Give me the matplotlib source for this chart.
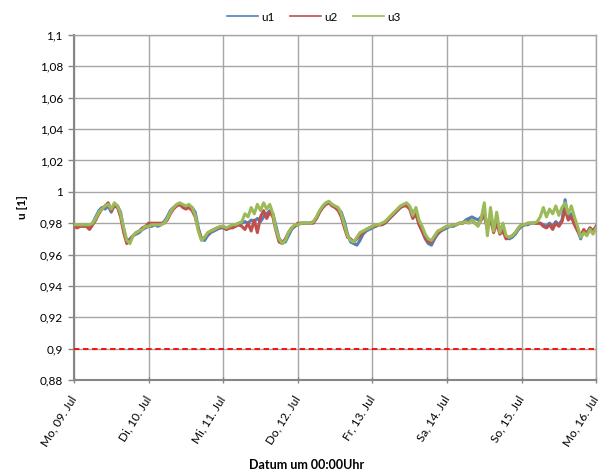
import datetime as dt
import numpy as np
import matplotlib
matplotlib.use('Agg')
import matplotlib.pyplot as plt
from matplotlib.lines import Line2D
from matplotlib.ticker import FuncFormatter

plt.rcParams['font.family'] = ['Lato', 'DejaVu Sans']

# hourly values, Mo 09. Jul 00:00 .. Mo 16. Jul 00:00
u1 = [
    0.978, 0.978, 0.979, 0.978, 0.979, 0.978, 0.980, 0.984, 0.988, 0.990, 0.989, 0.991, 0.987, 0.992, 0.991, 0.987, 0.976, 0.968, 0.970, 0.972, 0.973, 0.974, 0.976, 0.977,
    0.978, 0.978, 0.979, 0.978, 0.979, 0.981, 0.984, 0.988, 0.990, 0.991, 0.992, 0.991, 0.990, 0.991, 0.990, 0.987, 0.977, 0.970, 0.969, 0.972, 0.974, 0.975, 0.976, 0.977,
    0.977, 0.976, 0.977, 0.978, 0.979, 0.980, 0.980, 0.981, 0.980, 0.982, 0.981, 0.983, 0.981, 0.984, 0.986, 0.988, 0.986, 0.978, 0.970, 0.968, 0.968, 0.972, 0.976, 0.978,
    0.979, 0.980, 0.980, 0.980, 0.980, 0.981, 0.983, 0.987, 0.990, 0.992, 0.993, 0.992, 0.990, 0.989, 0.987, 0.981, 0.973, 0.968, 0.967, 0.966, 0.969, 0.973, 0.975, 0.976,
    0.977, 0.978, 0.979, 0.979, 0.980, 0.982, 0.984, 0.986, 0.988, 0.990, 0.991, 0.992, 0.990, 0.987, 0.986, 0.980, 0.975, 0.970, 0.967, 0.966, 0.970, 0.973, 0.975, 0.976,
    0.977, 0.978, 0.978, 0.979, 0.980, 0.980, 0.982, 0.983, 0.984, 0.983, 0.982, 0.984, 0.986, 0.978, 0.984, 0.976, 0.982, 0.975, 0.976, 0.971, 0.970, 0.971, 0.973, 0.976,
    0.978, 0.979, 0.979, 0.980, 0.980, 0.980, 0.980, 0.979, 0.978, 0.980, 0.978, 0.981, 0.979, 0.982, 0.995, 0.983, 0.986, 0.980, 0.976, 0.970, 0.975, 0.974, 0.977, 0.975,
    0.978,
]
u2 = [
    0.978, 0.977, 0.978, 0.978, 0.978, 0.976, 0.979, 0.982, 0.986, 0.989, 0.991, 0.993, 0.988, 0.991, 0.990, 0.984, 0.974, 0.967, 0.969, 0.972, 0.974, 0.975, 0.977, 0.978,
    0.980, 0.980, 0.980, 0.980, 0.980, 0.980, 0.982, 0.986, 0.989, 0.991, 0.992, 0.990, 0.989, 0.990, 0.988, 0.984, 0.976, 0.970, 0.971, 0.973, 0.975, 0.976, 0.977, 0.977,
    0.978, 0.976, 0.977, 0.977, 0.978, 0.979, 0.978, 0.976, 0.980, 0.975, 0.982, 0.974, 0.984, 0.988, 0.983, 0.987, 0.984, 0.975, 0.968, 0.967, 0.970, 0.974, 0.977, 0.978,
    0.980, 0.980, 0.980, 0.980, 0.980, 0.980, 0.983, 0.987, 0.990, 0.992, 0.993, 0.991, 0.990, 0.988, 0.984, 0.977, 0.971, 0.970, 0.968, 0.970, 0.972, 0.974, 0.976, 0.977,
    0.978, 0.978, 0.979, 0.979, 0.980, 0.982, 0.984, 0.986, 0.988, 0.990, 0.991, 0.991, 0.989, 0.983, 0.986, 0.979, 0.975, 0.971, 0.968, 0.968, 0.971, 0.974, 0.975, 0.977,
    0.978, 0.978, 0.979, 0.979, 0.980, 0.980, 0.981, 0.981, 0.982, 0.980, 0.979, 0.982, 0.985, 0.976, 0.983, 0.974, 0.980, 0.973, 0.975, 0.970, 0.971, 0.972, 0.974, 0.977,
    0.979, 0.979, 0.980, 0.980, 0.980, 0.980, 0.980, 0.978, 0.977, 0.979, 0.976, 0.980, 0.978, 0.981, 0.989, 0.982, 0.984, 0.979, 0.975, 0.972, 0.976, 0.973, 0.977, 0.975,
    0.978,
]
u3 = [
    0.979, 0.979, 0.979, 0.979, 0.979, 0.979, 0.980, 0.983, 0.987, 0.989, 0.991, 0.992, 0.989, 0.993, 0.991, 0.986, 0.977, 0.969, 0.967, 0.972, 0.974, 0.975, 0.976, 0.978,
    0.978, 0.979, 0.979, 0.979, 0.979, 0.980, 0.983, 0.987, 0.990, 0.992, 0.993, 0.992, 0.991, 0.992, 0.990, 0.985, 0.975, 0.969, 0.971, 0.974, 0.975, 0.976, 0.977, 0.978,
    0.978, 0.977, 0.978, 0.979, 0.979, 0.980, 0.981, 0.986, 0.984, 0.990, 0.986, 0.992, 0.988, 0.993, 0.989, 0.992, 0.986, 0.976, 0.970, 0.967, 0.969, 0.974, 0.977, 0.979,
    0.979, 0.980, 0.980, 0.980, 0.980, 0.981, 0.984, 0.988, 0.991, 0.993, 0.994, 0.992, 0.991, 0.990, 0.986, 0.979, 0.972, 0.969, 0.968, 0.971, 0.974, 0.975, 0.976, 0.977,
    0.978, 0.979, 0.979, 0.980, 0.981, 0.983, 0.985, 0.987, 0.989, 0.991, 0.992, 0.993, 0.991, 0.985, 0.990, 0.982, 0.978, 0.973, 0.970, 0.969, 0.972, 0.975, 0.976, 0.977,
    0.978, 0.978, 0.979, 0.979, 0.980, 0.980, 0.981, 0.980, 0.982, 0.980, 0.978, 0.983, 0.993, 0.972, 0.990, 0.975, 0.987, 0.974, 0.980, 0.972, 0.971, 0.972, 0.974, 0.977,
    0.979, 0.979, 0.980, 0.980, 0.980, 0.981, 0.984, 0.990, 0.984, 0.989, 0.986, 0.991, 0.985, 0.990, 0.993, 0.986, 0.991, 0.984, 0.978, 0.971, 0.974, 0.972, 0.976, 0.973,
    0.977,
]
limit = 0.9
day_labels = ['Mo, 09. Jul', 'Di, 10. Jul', 'Mi, 11. Jul', 'Do, 12. Jul',
              'Fr, 13. Jul', 'Sa, 14. Jul', 'So, 15. Jul', 'Mo, 16. Jul']
series = [('u1', u1, '#4F81BD'), ('u2', u2, '#C0504D'), ('u3', u3, '#9BBB59')]

start = dt.datetime(2018, 7, 9)
times = [start + dt.timedelta(hours=h) for h in range(len(u1))]
days = [start + dt.timedelta(days=d) for d in range(len(day_labels))]

fig = plt.figure(figsize=(6.03, 4.75), dpi=100)
ax = fig.add_axes([0.1227, 0.2, 0.866, 0.7263])

handles = []
for i, (name, vals, col) in enumerate(series):
    ax.plot(times, vals, color=col, lw=2.2, zorder=3 + i)
    handles.append(Line2D([], [], color=col, lw=1.2, label=name))
ax.axhline(limit, color='#FF0000', lw=1.3, ls=(0, (3, 2)), zorder=6)

ax.set_xlim(days[0], days[-1])
ax.set_ylim(0.88, 1.1)
ax.set_yticks(np.arange(0.88, 1.1001, 0.02))
ax.yaxis.set_major_formatter(FuncFormatter(
    lambda v, p: ('%.2f' % v).rstrip('0').rstrip('.').replace('.', ',')))
ax.set_xticks(days)
ax.set_xticklabels(day_labels, rotation=58, ha='right', va='center',
                   rotation_mode='anchor', fontsize=8.5)
ax.tick_params(axis='y', labelsize=8.5, length=4, color='#868686', width=1, pad=4)
ax.tick_params(axis='x', length=4, color='#868686', width=1, direction='inout', pad=10)

ax.grid(True, color='#A6A6A6', lw=1)
ax.set_axisbelow(True)
for side in ['top', 'right']:
    ax.spines[side].set_color('#A6A6A6')
    ax.spines[side].set_linewidth(1)
for side in ['left', 'bottom']:
    ax.spines[side].set_color('#868686')
    ax.spines[side].set_linewidth(1.5)

fig.text(0.037, 0.5645, 'u [1]', rotation=90, ha='center', va='center',
         fontsize=8.5, fontweight='bold')
fig.text(0.509, 0.021, 'Datum um 00:00Uhr', ha='center', va='center',
         fontsize=9, fontweight='bold')

ax.legend(handles=handles, loc='center', bbox_to_anchor=(0.46, 1.052), ncol=3,
          frameon=False, fontsize=8.5, handlelength=2.6, columnspacing=1.3,
          handletextpad=0.3)

fig.savefig('out.png', dpi=100)
